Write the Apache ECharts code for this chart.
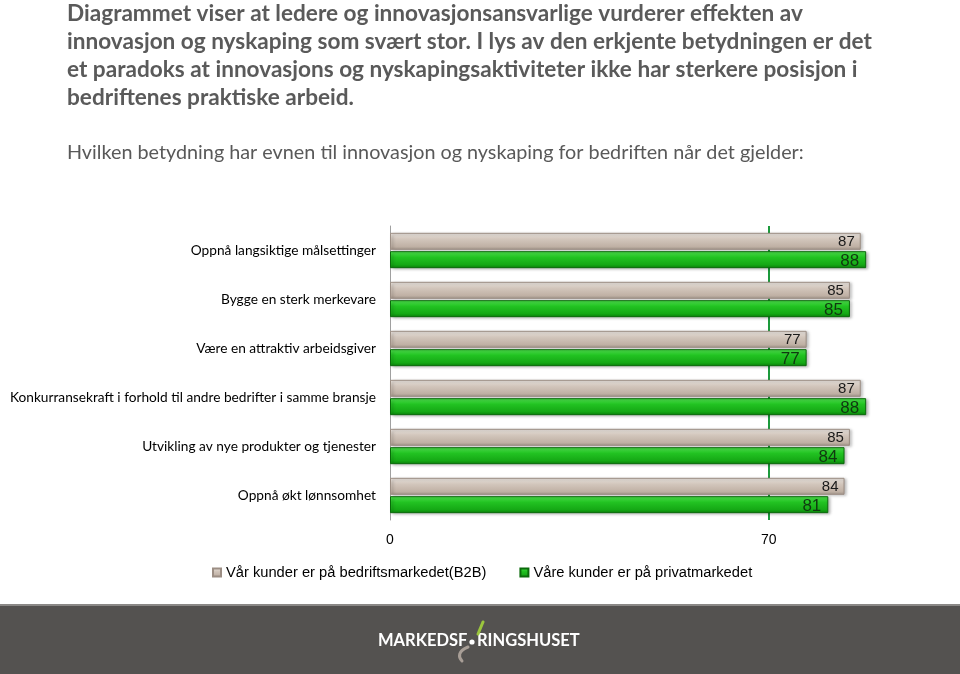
<!DOCTYPE html>
<html><head><meta charset="utf-8">
<script src="https://cdn.jsdelivr.net/npm/echarts@6/dist/echarts.min.js"></script>
<style>html,body{margin:0;padding:0;background:#fff}#c{width:960px;height:674px}</style>
</head><body><div id="c"></div>
<script>
const categories = [
  'Oppnå langsiktige målsettinger',
  'Bygge en sterk merkevare',
  'Være en attraktiv arbeidsgiver',
  'Konkurransekraft i forhold til andre bedrifter i samme bransje',
  'Utvikling av nye produkter og tjenester',
  'Oppnå økt lønnsomhet'
];
const seriesNames = ['Vår kunder er på bedriftsmarkedet(B2B)', 'Våre kunder er på privatmarkedet'];
const b2bValues = [87, 85, 77, 87, 85, 84];
const privValues = [88, 85, 77, 88, 84, 81];
const titleText = 'Diagrammet viser at ledere og innovasjonsansvarlige vurderer effekten av\ninnovasjon og nyskaping som svært stor. I lys av den erkjente betydningen er det\net paradoks at innovasjons og nyskapingsaktiviteter ikke har sterkere posisjon i\nbedriftenes praktiske arbeid.';
const subtitleText = 'Hvilken betydning har evnen til innovasjon og nyskaping for bedriften når det gjelder:';

const grayGrad = new echarts.graphic.LinearGradient(0,0,0,1,[
  {offset:0,color:'#f1ebe6'},{offset:0.35,color:'#d3c7bd'},{offset:0.8,color:'#c0b1a5'},{offset:1,color:'#a89a8f'}]);
const greenGrad = new echarts.graphic.LinearGradient(0,0,0,1,[
  {offset:0,color:'#52e852'},{offset:0.35,color:'#22c322'},{offset:0.8,color:'#15a815'},{offset:1,color:'#0b850b'}]);

const chart = echarts.init(document.getElementById('c'));
chart.setOption({
  animation:false,
  title:[
    {text:titleText,left:62,top:-5,textStyle:{fontFamily:'Lato',fontWeight:'bold',fontSize:22.6,lineHeight:28,color:'#5a5a5a'}},
    {text:subtitleText,left:62,top:138,textStyle:{fontFamily:'Lato',fontWeight:'normal',fontSize:19.8,color:'#595959'}}
  ],
  legend:{
    left:207,top:560,itemWidth:8,itemHeight:8,itemGap:33,icon:'rect',
    textStyle:{fontFamily:'Liberation Sans',fontSize:14.7,color:'#000'},
    data:seriesNames
  },
  grid:{left:390,right:83,top:226,bottom:154,containLabel:false},
  xAxis:{
    type:'value',min:0,max:90,interval:70,
    axisLine:{show:false},axisTick:{show:false},
    axisLabel:{showMaxLabel:false,margin:13,fontFamily:'Liberation Sans',fontSize:14,color:'#000'},
    splitLine:{show:true,showMinLine:false,showMaxLine:false,lineStyle:{color:'#1c9a3c',width:2}}
  },
  yAxis:{
    type:'category',inverse:true,data:categories,
    axisLine:{show:true,lineStyle:{color:'#a0a0a0',width:1}},
    axisTick:{show:false},
    axisLabel:{margin:14,fontFamily:'Lato',fontSize:13.7,color:'#000'}
  },
  series:[
    {name:seriesNames[0],type:'bar',data:b2bValues,barWidth:17,barGap:'8%',
     itemStyle:{color:grayGrad,borderColor:'#9c8e84',borderWidth:1,shadowColor:'rgba(0,0,0,0.3)',shadowBlur:3,shadowOffsetX:2,shadowOffsetY:1},
     label:{show:true,position:'insideRight',offset:[-1,1],fontFamily:'Liberation Sans',fontSize:15,color:'#1a1a1a'}},
    {name:seriesNames[1],type:'bar',data:privValues,barWidth:17,
     itemStyle:{color:greenGrad,borderColor:'#0a6a0a',borderWidth:1,shadowColor:'rgba(0,0,0,0.3)',shadowBlur:3,shadowOffsetX:2,shadowOffsetY:1},
     label:{show:true,position:'insideRight',offset:[-2,2],fontFamily:'Liberation Sans',fontSize:17,color:'#103810'}}
  ],
  graphic:[
    {type:'rect',shape:{x:0,y:604,width:960,height:2},style:{fill:'#8a8886'},silent:true},
    {type:'rect',shape:{x:0,y:606,width:960,height:68},style:{fill:'#545250'},silent:true},
    {type:'text',x:378,y:641,style:{text:'MARKEDSF',fill:'#ffffff',font:'bold 16.5px Lato',textVerticalAlign:'middle'}},
    {type:'circle',shape:{cx:472,cy:642,r:2.6},style:{fill:'#ffffff'}},
    {type:'text',x:477,y:641,style:{text:'RINGSHUSET',fill:'#ffffff',font:'bold 16.5px Lato',textVerticalAlign:'middle'}},
    {type:'line',shape:{x1:478,y1:634,x2:483,y2:622},style:{stroke:'#9bc53d',lineWidth:3,lineCap:'round'}},
    {type:'bezierCurve',shape:{x1:468,y1:647,cpx1:458,cpy1:651,cpx2:458,cpy2:657,x2:462,y2:661},style:{stroke:'#a89e96',lineWidth:3,fill:null,lineCap:'round'}}
  ]
});
</script>
</body></html>
